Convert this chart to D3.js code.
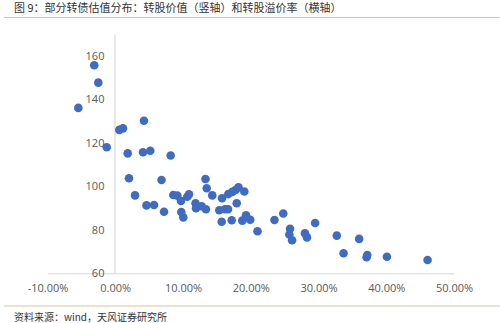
<!DOCTYPE html>
<html>
<head>
<meta charset="utf-8">
<script src="https://cdn.jsdelivr.net/npm/d3@7/dist/d3.min.js"></script>
<style>
  html, body { margin: 0; padding: 0; background: #ffffff; }
  svg { display: block; }
</style>
</head>
<body>
<svg id="chart" width="500" height="323"></svg>
<script>
// Conversion premium (%) per bond
const premium = [
  -3.1, -2.5, -5.45, 4.24, 0.6, 1.14, -1.26, 1.84, 4.1, 5.17,
  8.18, 2.03, 6.83, 2.92, 4.61, 5.72, 7.2, 8.57, 9.16, 9.7,
  10.63, 10.89, 9.75, 10.04, 11.85, 11.92, 12.76, 13.39, 13.32, 13.5,
  14.32, 15.36, 15.76, 15.71, 16.2, 16.64, 16.69, 17.28, 17.75, 18.19,
  19.05, 17.93, 17.19, 18.75, 19.3, 19.93, 21.0, 23.5, 24.8, 25.8,
  25.7, 26.1, 28.0, 28.3, 29.5, 32.7, 33.7, 36.0, 37.2, 37.1,
  40.1, 46.1
];
// Conversion value per bond
const convValue = [
  155.6, 147.6, 136.0, 130.1, 125.9, 126.6, 117.9, 115.1, 115.6, 116.3,
  114.1, 103.7, 102.9, 95.8, 91.2, 91.4, 88.3, 96.0, 95.7, 93.2,
  95.2, 96.3, 88.2, 85.7, 92.2, 89.9, 90.8, 89.4, 103.3, 99.1,
  95.8, 89.0, 94.5, 83.7, 89.4, 89.4, 96.4, 97.4, 98.3, 99.5,
  97.6, 92.2, 84.4, 84.2, 86.6, 84.6, 79.3, 84.5, 87.5, 80.5,
  77.8, 75.2, 78.4, 76.5, 83.1, 77.3, 69.2, 75.8, 68.4, 67.4,
  67.6, 66.1
];
const xTicks = [-10, 0, 10, 20, 30, 40, 50];
const yTicks = [60, 80, 100, 120, 140, 160];

const titleText = "图 9：部分转债估值分布：转股价值（竖轴）和转股溢价率（横轴）";
const sourceText = "资料来源：wind，天风证券研究所";

const svg = d3.select("#chart");
const font = "'Microsoft YaHei','Noto Sans CJK SC','Noto Sans',sans-serif";

// Header and footer
svg.append("text")
  .attr("x", 14).attr("y", 12)
  .attr("font-family", font).attr("font-size", 11)
  .attr("fill", "#333333")
  .text(titleText);
svg.append("line")
  .attr("x1", 4).attr("x2", 500).attr("y1", 17.5).attr("y2", 17.5)
  .attr("stroke", "#dcc394").attr("stroke-width", 1.2);
svg.append("line")
  .attr("x1", 4).attr("x2", 500).attr("y1", 306).attr("y2", 306)
  .attr("stroke", "#dcc394").attr("stroke-width", 1.2);
svg.append("text")
  .attr("x", 14).attr("y", 321)
  .attr("font-family", font).attr("font-size", 10)
  .attr("fill", "#333333")
  .text(sourceText);

// Scales
const x = d3.scaleLinear().domain([-10, 50]).range([47.5, 454]);
const y = d3.scaleLinear().domain([60, 170]).range([273.3, 33.9]);

// Horizontal axis (line at value 60) with percent labels
const xAxis = d3.axisBottom(x)
  .tickValues(xTicks)
  .tickSize(0)
  .tickPadding(11)
  .tickFormat(d => d.toFixed(2) + "%");
const gx = svg.append("g")
  .attr("transform", `translate(0,${y(60)})`)
  .call(xAxis);
gx.select(".domain").attr("stroke", "#d9d9d9").attr("stroke-width", 1);
gx.selectAll("text")
  .attr("font-family", "'Segoe UI','Open Sans','Noto Sans',sans-serif")
  .attr("font-size", 11).attr("fill", "#595959");

// Vertical axis crossing at premium 0
const yAxis = d3.axisLeft(y)
  .tickValues(yTicks)
  .tickSize(0)
  .tickPadding(10)
  .tickFormat(d3.format("d"));
const gy = svg.append("g")
  .attr("transform", `translate(${x(0) - 0.8},0)`)
  .call(yAxis);
gy.select(".domain").attr("stroke", "#d9d9d9").attr("stroke-width", 1.2);
gy.selectAll("text")
  .attr("font-family", "'Segoe UI','Open Sans','Noto Sans',sans-serif")
  .attr("font-size", 11).attr("fill", "#595959");

// Points
const pts = premium.map((p, i) => ({ p, v: convValue[i] }));
svg.append("g")
  .selectAll("circle")
  .data(pts)
  .join("circle")
  .attr("cx", d => x(d.p))
  .attr("cy", d => y(d.v))
  .attr("r", 4.3)
  .attr("fill", "#3f6cc2");
</script>
</body>
</html>
